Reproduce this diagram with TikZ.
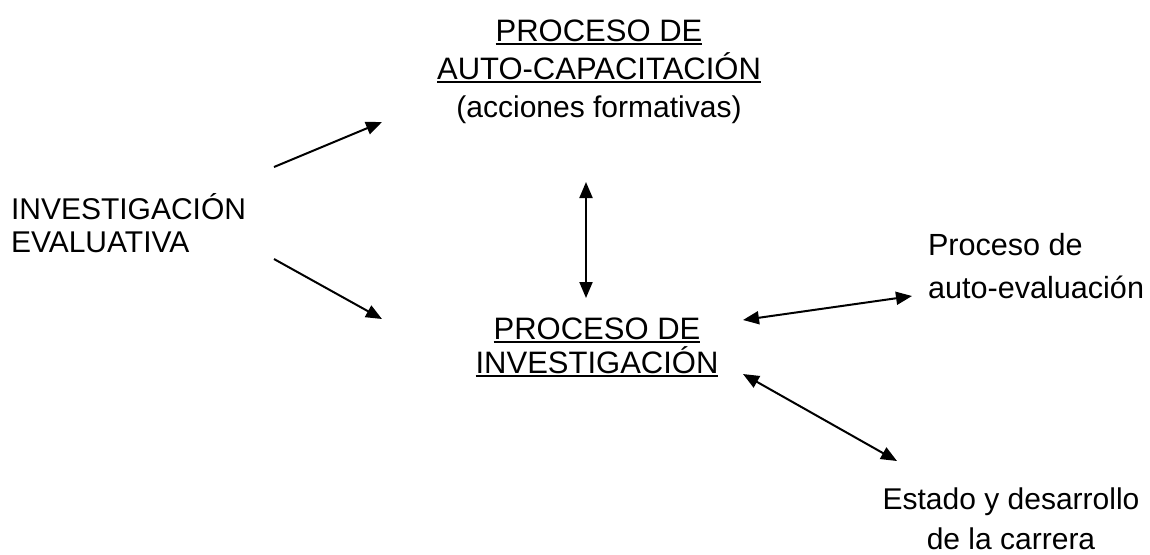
\documentclass[tikz,border=0pt]{standalone}
\usepackage{fontspec}
\setmainfont{Liberation Sans}
\newcommand*{\undl}[1]{\leavevmode\setbox0\hbox{#1}\rlap{\rule[-2.1pt]{\wd0}{1.1pt}}\box0}
\usetikzlibrary{arrows.meta, positioning}
\tikzstyle{block} = [inner sep=0pt, outer sep=0pt]
\tikzstyle{main} = [block, align=center, font=\fontsize{15.5}{19}\selectfont]
\tikzstyle{side} = [block, align=left, font=\fontsize{15}{16.5}\selectfont]
\tikzstyle{oneway} = [-{Triangle[length=8pt, width=6.5pt]}, line width=1pt]
\tikzstyle{twoway} = [{Triangle[length=8pt, width=6.5pt]}-{Triangle[length=8pt, width=6.5pt]}, line width=1pt]

\begin{document}
\begin{tikzpicture}[x=0.5pt, y=-0.5pt]
    \useasboundingbox (0,0) rectangle (1150,554);
    \node (capacitacion) [main, anchor=north] at (599,19.5) {\undl{PROCESO DE}\\\undl{AUTO-CAPACITACIÓN}\\{\fontsize{15}{19}\selectfont (acciones formativas)}};
    \node (evaluativa) [side, anchor=north west] at (11,193) {INVESTIGACIÓN\\EVALUATIVA};
    \node (investigacion) [main, anchor=north, font=\fontsize{15.5}{17}\selectfont] at (597,317.5) {\undl{PROCESO DE}\\\undl{INVESTIGACIÓN}};
    \node (autoeval) [side, anchor=north west, font=\fontsize{15.3}{21.5}\selectfont] at (928,233) {Proceso de\\auto-evaluación};
    \node (carrera) [main, anchor=north, font=\fontsize{15}{20}\selectfont] at (1011,488) {Estado y desarrollo\\de la carrera};

    % Arrows.
    \draw [oneway] ([shift={(263,-26)}]evaluativa.north west) -- ([shift={(-217,102.5)}]capacitacion.north);
    \draw [oneway] ([shift={(263,66)}]evaluativa.north west) -- ([shift={(-215,1.5)}]investigacion.north);
    \draw [twoway] ([shift={(-13,162.5)}]capacitacion.north) -- ([shift={(-11,-19.5)}]investigacion.north);
    \draw [twoway] ([shift={(146,2.5)}]investigacion.north) -- ([shift={(-16,63)}]autoeval.north west);
    \draw [twoway] ([shift={(146,56.5)}]investigacion.north) -- ([shift={(-114,-27)}]carrera.north);
\end{tikzpicture}
\end{document}
